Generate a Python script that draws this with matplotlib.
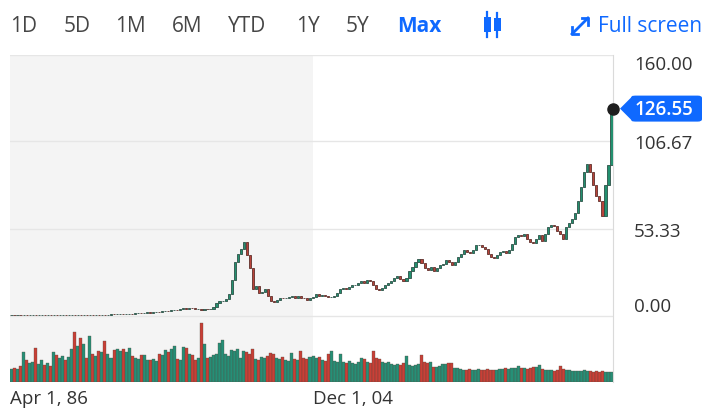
import numpy as np
import pandas as pd
import matplotlib
matplotlib.use("Agg")
import matplotlib.pyplot as plt
import matplotlib.dates as mdates
from matplotlib.patches import Polygon, FancyBboxPatch, Rectangle
from matplotlib.lines import Line2D

plt.rcParams['font.family'] = ['Open Sans', 'DejaVu Sans']

# ---------------- data ----------------
close = [
    0.25, 0.22, 0.24, 0.23, 0.3, 0.28, 0.3, 0.31, 0.27, 0.3,
    0.33, 0.31, 0.35, 0.34, 0.4, 0.38, 0.42, 0.45, 0.43, 0.47,
    0.5, 0.44, 0.48, 0.42, 0.45, 0.43, 0.5, 0.47, 0.5, 0.48,
    0.55, 0.5, 0.6, 0.7, 0.66, 0.8, 0.9, 0.86, 1.0, 1.2,
    1.1, 1.3, 1.5, 1.4, 1.7, 1.9, 1.8, 2.1, 2.4, 2.3,
    2.6, 2.9, 2.8, 3.2, 3.6, 3.4, 3.9, 4.4, 4.2, 4.7,
    4.3, 4.0, 4.2, 3.6, 4.0, 3.7, 4.2, 5.5, 7.5, 8.6,
    9.0, 10.0, 13.0, 22.0, 33.0, 38.0, 41.0, 45.0, 37.0, 29.0,
    16.0, 18.0, 13.5, 14.5, 16.0, 12.0, 8.6, 8.0, 9.5, 11.0,
    10.5, 11.0, 11.6, 12.0, 11.0, 11.8, 11.0, 10.5, 9.8, 10.5,
    11.5, 12.9, 12.0, 12.5, 12.0, 11.6, 11.6, 12.0, 14.0, 16.0,
    17.0, 16.0, 17.5, 18.5, 19.0, 20.0, 21.0, 20.0, 21.5, 21.0,
    19.0, 16.5, 15.5, 17.0, 19.0, 20.0, 21.0, 23.0, 24.0, 22.5,
    21.0, 23.0, 27.0, 30.0, 33.0, 34.5, 32.0, 29.0, 28.0, 29.5,
    27.0, 29.0, 31.0, 31.5, 34.0, 32.5, 31.0, 33.0, 36.0, 38.0,
    40.0, 39.0, 38.5, 40.0, 43.0, 43.5, 42.0, 41.0, 38.0, 36.0,
    35.5, 37.0, 39.0, 39.5, 38.5, 40.0, 44.0, 48.0, 49.5, 49.0,
    49.7, 47.0, 45.0, 44.5, 47.0, 49.5, 45.5, 50.0, 54.0, 55.5,
    55.0, 52.0, 50.0, 46.6, 54.0, 57.0, 59.0, 63.0, 70.0, 79.0,
    88.0, 93.0, 88.0, 80.0, 73.0, 70.0, 61.0, 80.0, 92.0, 126.55,
]

volume = [
    13, 14, 13, 16, 30, 22, 19, 20, 34, 18,
    22, 17, 19, 16, 30, 27, 24, 26, 22, 25,
    33, 50, 36, 44, 38, 24, 46, 28, 26, 31,
    30, 41, 28, 24, 32, 33, 31, 33, 30, 34,
    26, 24, 23, 27, 27, 22, 22, 23, 21, 28,
    27, 32, 30, 33, 36, 23, 22, 35, 34, 28,
    27, 22, 24, 59, 38, 24, 25, 27, 28, 39,
    42, 28, 26, 32, 31, 33, 24, 31, 30, 28,
    33, 23, 22, 25, 24, 26, 29, 28, 24, 23,
    25, 22, 21, 29, 23, 22, 31, 24, 23, 25,
    26, 24, 25, 22, 21, 28, 31, 21, 20, 28,
    20, 19, 21, 19, 18, 20, 24, 23, 20, 19,
    31, 24, 23, 20, 19, 20, 18, 17, 18, 17,
    19, 26, 17, 16, 17, 18, 27, 20, 19, 20,
    15, 15, 16, 18, 18, 19, 19, 14, 14, 13,
    12.5, 12, 13, 12, 12, 13, 12, 12, 13, 12,
    12, 12, 13, 13, 14, 13, 14, 14, 16, 14,
    14, 13, 14, 15, 15, 17, 13, 12, 12, 12,
    11, 12, 16, 13, 12, 12, 11, 11, 11, 11,
    12, 11, 11, 10, 11, 10, 11, 10, 10, 10,
]

start_date = "1986-04-01"
end_date = "2023-05-27"
split_date = "2004-12-01"
xtick_dates = ["1986-04-01", "2004-12-01"]
xtick_labels = ["Apr 1, 86", "Dec 1, 04"]
ytick_values = [0.00, 53.33, 106.67, 160.00]
range_buttons = ["1D", "5D", "1M", "6M", "YTD", "1Y", "5Y", "Max"]
last_price = 126.55

# ---------------- layout helpers ----------------
W, H = 713, 410
def fx(px):
    return px / W
def fy(py):
    return 1 - py / H

fig = plt.figure(figsize=(W / 100, H / 100), dpi=100)
fig.patch.set_facecolor("white")

left_px, right_px, top_px, bot_px = 10, 613, 55.5, 383
ax = fig.add_axes([fx(left_px), fy(bot_px), fx(right_px) - fx(left_px), fy(top_px) - fy(bot_px)])
axv = ax.twinx()
ax.set_zorder(2)
axv.set_zorder(1)
ax.patch.set_visible(False)

n = len(close)
edges = mdates.date2num(pd.date_range(start_date, end_date, periods=n + 1))
xc = (edges[:-1] + edges[1:]) / 2
step = edges[1] - edges[0]

close_a = np.array(close)
open_a = np.concatenate([[close_a[0]], close_a[:-1]])
up = close_a >= open_a

# price scale: 0 at y=316.5 px, 160 at y=55.5 px
ppu = (316.5 - 55.5) / 160.0
ymin = -(bot_px - 316.5) / ppu
ax.set_ylim(ymin, 160)
ax.set_xlim(edges[0], edges[-1])

# volume scale (relative units)
axv.set_ylim(0, bot_px - top_px)
axv.set_xlim(edges[0], edges[-1])

# shaded earlier region
axv.axvspan(edges[0], mdates.date2num(pd.Timestamp(split_date)), color="#f4f4f4", zorder=0, lw=0)

green = "#1a8a70"
red = "#c6352c"
vcolors = [green if u else red for u in up]
axv.bar(xc, volume, width=step * 1.0, color=vcolors, edgecolor="#5a4a40", linewidth=0.25,
        zorder=1, alpha=0.95)

# grid lines
for v in ytick_values:
    ax.axhline(v, color="#e6e6e6", lw=1, zorder=0)

# candles
body_col = ["#23906f" if u else "#b8433a" for u in up]
edge_col = ["#2c5046" if u else "#5e2f2a" for u in up]
ax.bar(xc, close_a - open_a, bottom=open_a, width=step * 0.7,
       color=body_col, edgecolor=edge_col, linewidth=0.6, zorder=3)

# last price dot
ax.plot([edges[-1]], [last_price], "o", color="#1e1e1e", ms=8, zorder=5, clip_on=False)

# spines
for s in ["top", "left", "bottom"]:
    ax.spines[s].set_visible(False)
    axv.spines[s].set_visible(False)
ax.spines["right"].set_color("#dadada")
axv.spines["right"].set_visible(False)
axv.set_yticks([])
axv.tick_params(axis="both", length=0)

# y ticks on the right
ax.yaxis.tick_right()
ax.set_yticks(ytick_values)
ax.set_yticklabels([f"{v:.2f}" for v in ytick_values])
ax.tick_params(axis="y", length=0, pad=15, labelsize=13.5, labelcolor="#333333")
labs = ax.get_yticklabels()
labs[0].set_va("bottom")
labs[-1].set_va("top")

# x ticks
ax.set_xticks(mdates.date2num(pd.to_datetime(xtick_dates)))
ax.set_xticklabels(xtick_labels)
ax.tick_params(axis="x", length=0, pad=5, labelsize=13.5, labelcolor="#333333")
for lab in ax.get_xticklabels():
    lab.set_ha("left")

# price tag
tag_y = 109.6
tip_x = 620
body_l, body_r = 631, 702
hh = 13
blue = "#0f69ff"
tri = Polygon([[fx(tip_x), fy(tag_y)], [fx(body_l + 2), fy(tag_y - hh)], [fx(body_l + 2), fy(tag_y + hh)]],
              closed=True, transform=fig.transFigure, color=blue, lw=0)
fig.patches.append(tri)
box = FancyBboxPatch((fx(body_l), fy(tag_y + hh)), fx(body_r) - fx(body_l), fy(tag_y - hh) - fy(tag_y + hh),
                     boxstyle="round,pad=0,rounding_size=0.006", transform=fig.transFigure,
                     color=blue, lw=0)
fig.patches.append(box)
fig.text(fx(635), fy(tag_y), f"{last_price:.2f}", color="white", fontsize=13.5,
         fontweight="semibold", va="center", ha="left")

# toolbar
btn_x = [10, 64, 115, 172, 228, 296, 346, 397]
for lbl, bx in zip(range_buttons, btn_x):
    if lbl == "Max":
        fig.text(fx(bx), fy(26), lbl, color=blue, fontsize=15, fontweight="bold", va="center", ha="left")
    else:
        fig.text(fx(bx), fy(26), lbl, color="#464646", fontsize=15, va="center", ha="left")

# candlestick icon
for cx, (wt, wb, bt, bb) in zip([487, 497], [(13, 38, 18, 33), (14, 38, 19, 32)]):
    fig.lines.append(Line2D([fx(cx), fx(cx)], [fy(wt), fy(wb)], transform=fig.transFigure,
                            color=blue, lw=1.6))
    fig.patches.append(Rectangle((fx(cx - 3.5), fy(bb)), fx(7), (bb - bt) / H,
                                 transform=fig.transFigure, color=blue, lw=0))

# full screen icon
fig.lines.append(Line2D([fx(572), fx(588)], [fy(35), fy(19)], transform=fig.transFigure, color=blue, lw=2))
fig.lines.append(Line2D([fx(572), fx(572), fx(578)], [fy(28), fy(35), fy(35)], transform=fig.transFigure, color=blue, lw=2))
fig.lines.append(Line2D([fx(582), fx(588), fx(588)], [fy(19), fy(19), fy(26)], transform=fig.transFigure, color=blue, lw=2))
fig.text(fx(598), fy(26), "Full screen", color=blue, fontsize=15, va="center", ha="left")

fig.savefig("out.png", dpi=100, facecolor="white")
